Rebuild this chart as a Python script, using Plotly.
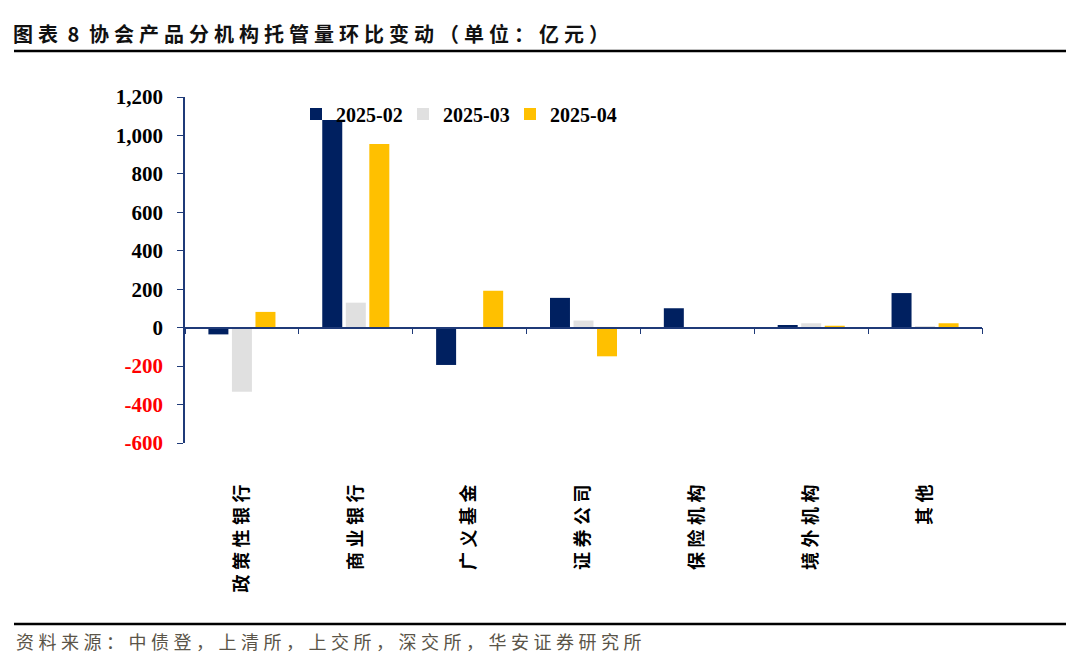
import plotly.graph_objects as go

categories = ["政策性银行", "商业银行", "广义基金", "证券公司", "保险机构", "境外机构", "其他"]
series_names = ["2025-02", "2025-03", "2025-04"]
v_2025_02 = [-35, 1080, -194, 155, 101, 14, 180]
v_2025_03 = [-334, 130, 0, 37, 0, 23, 5]
v_2025_04 = [82, 955, 192, -149, 0, 10, 23]
colors = ["#002060", "#E0E0E0", "#FFC000"]
title_text = "图表 8 协会产品分机构托管量环比变动（单位：亿元）"
source_text = "资料来源：中债登，上清所，上交所，深交所，华安证券研究所"

y_tickvals = [-600, -400, -200, 0, 200, 400, 600, 800, 1000, 1200]
y_ticktext = []
for v in y_tickvals:
    s = f"{v:,}"
    if v < 0:
        y_ticktext.append(f"<span style='color:#FF0000'>{s}</span>")
    else:
        y_ticktext.append(s)

SP = "\u2005"
def spaced(t):
    return SP.join(ch for ch in t if ch != " ").replace("表" + SP + "8" + SP, "表" + SP + " 8 " + SP)

OFF = 8  # page body margin
W, H = 1080, 666
# target screen coordinates
ax_left, ax_right, ax_top, ax_bottom, paper_bottom = 185, 982, 97, 443, 480
L = ax_left - OFF
R = W - (ax_right - OFF)
T = ax_top - OFF
B = H - (paper_bottom - OFF)
paper_h = paper_bottom - ax_top
dom_bottom = (paper_bottom - ax_bottom) / paper_h

def sy(y):
    return (paper_bottom - y) / paper_h

def sx(x):
    return (x - ax_left) / (ax_right - ax_left)

zero_pos = dom_bottom + (1 - dom_bottom) * (0 - (-600)) / (1200 - (-600))

fig = go.Figure()
for name, vals, c in zip(series_names, [v_2025_02, v_2025_03, v_2025_04], colors):
    fig.add_trace(go.Bar(x=list(range(len(categories))), y=vals, name=name,
                         marker=dict(color=c, line=dict(width=0))))

fig.update_layout(
    width=W, height=H,
    margin=dict(l=L, r=R, t=T, b=B, autoexpand=False),
    paper_bgcolor="white", plot_bgcolor="white",
    barmode="group", bargap=0.38, bargroupgap=0.15,
    showlegend=True,
    legend=dict(orientation="h", x=sx(296), y=sy(114), xanchor="left", yanchor="middle",
                bgcolor="rgba(0,0,0,0)",
                font=dict(family="Liberation Serif", size=20, color="black", weight="bold"),
                itemwidth=30, entrywidth=62, tracegroupgap=0),
    title=dict(text="<b>" + spaced(title_text) + "</b>",
               x=(13 - OFF) / W, y=1 - (35 - OFF) / H, xref="container", yref="container",
               xanchor="left", yanchor="middle",
               font=dict(family="Noto Sans CJK SC", size=20, color="#111111")),
    xaxis=dict(range=[-0.5, 6.5], anchor="free", position=zero_pos,
               showline=True, linecolor="#1F3A78", linewidth=1.5,
               showgrid=False, zeroline=False,
               tickmode="array", tickvals=[k + 0.5 for k in range(-1, 7)],
               ticks="outside", ticklen=6, tickcolor="#1F3A78", tickwidth=1.2,
               showticklabels=False),
    xaxis2=dict(range=[-0.5, 6.5], overlaying="x", anchor="free", position=0, side="bottom",
                showline=False, showgrid=False, zeroline=False, ticks="",
                tickmode="array", tickvals=list(range(len(categories))),
                ticktext=[spaced(c) for c in categories],
                tickangle=-90,
                tickfont=dict(family="Noto Sans CJK SC", size=18, color="black", weight="bold")),
    yaxis=dict(domain=[dom_bottom, 1], range=[-600, 1200],
               showline=True, linecolor="#1F3A78", linewidth=1.5,
               showgrid=False, zeroline=False,
               tickmode="array", tickvals=y_tickvals, ticktext=y_ticktext,
               ticks="outside", ticklen=6, tickcolor="#1F3A78", tickwidth=1.2,
               tickfont=dict(family="Liberation Serif", size=21, color="black", weight="bold"),
               ticklabelstandoff=10),
    shapes=[
        dict(type="line", xref="paper", yref="paper",
             x0=sx(14), x1=sx(1066), y0=sy(51), y1=sy(51),
             line=dict(color="black", width=2.5)),
        dict(type="line", xref="paper", yref="paper",
             x0=sx(14), x1=sx(1066), y0=sy(624), y1=sy(624),
             line=dict(color="black", width=2.5)),
    ],
    annotations=[
        dict(text=spaced(source_text),
             xref="paper", yref="paper", x=sx(14), y=sy(641),
             xanchor="left", yanchor="middle", showarrow=False,
             font=dict(family="Noto Sans CJK SC", size=18, color="#5A5448")),
    ],
)
fig.add_trace(go.Scatter(x=[0], y=[0], xaxis="x2", mode="markers", marker=dict(opacity=0),
                         showlegend=False, hoverinfo="skip"))

fig.write_html("out.html")
